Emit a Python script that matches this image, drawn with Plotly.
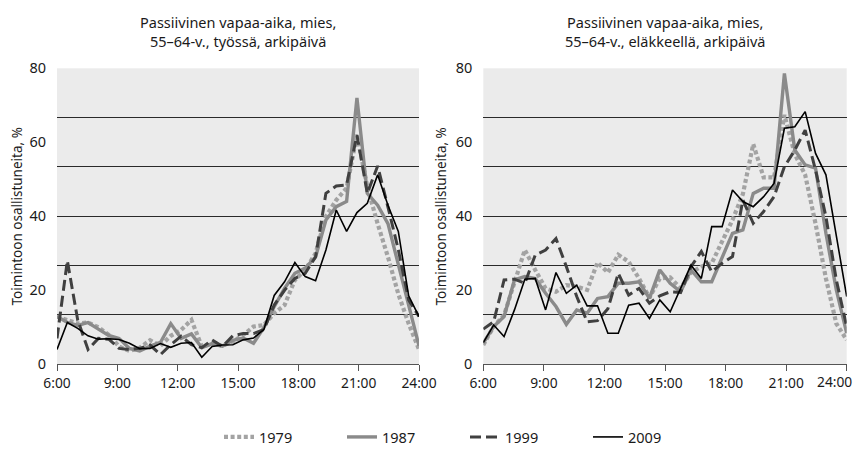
import numpy as np
import plotly.graph_objects as go

# --- data: 36 half-hour slots from 6:00 to 24:00 ---
tick_labels = ["6:00", "9:00", "12:00", "15:00", "18:00", "21:00", "24:00"]
years = ["1979", "1987", "1999", "2009"]

left_1979 = [12.9, 11.8, 11.0, 11.3, 10.0, 8.0, 4.8, 3.6, 4.5, 6.5, 5.0, 7.7, 9.3, 12.0, 4.8, 5.5, 5.0, 6.2,
             7.9, 10.2, 10.6, 13.8, 16.0, 22.8, 25.5, 30.0, 40.0, 44.4, 47.6, 62.0, 48.0, 38.0, 29.0, 19.0, 11.0, 4.0]
left_1987 = [12.9, 11.3, 10.5, 11.3, 9.5, 7.8, 7.0, 4.3, 3.6, 4.9, 5.9, 11.0, 7.0, 8.2, 4.5, 5.6, 4.9, 6.5,
             7.1, 5.7, 9.9, 15.6, 20.5, 24.6, 26.0, 29.0, 39.0, 42.6, 44.0, 72.0, 46.2, 43.0, 38.0, 27.0, 16.5, 5.0]
left_1999 = [7.0, 28.0, 12.0, 4.0, 7.0, 6.8, 4.3, 4.0, 4.3, 5.2, 2.6, 5.3, 7.6, 5.3, 4.5, 6.6, 4.8, 7.7,
             8.3, 8.3, 9.4, 16.0, 20.0, 23.2, 24.6, 29.0, 46.2, 48.2, 48.5, 62.0, 46.2, 53.6, 42.5, 31.0, 17.4, 12.9]
left_2009 = [4.0, 11.3, 9.7, 7.7, 6.8, 6.9, 6.7, 5.7, 4.2, 4.3, 5.6, 4.6, 5.7, 5.9, 1.9, 4.8, 5.2, 5.3,
             6.6, 7.1, 9.4, 18.6, 22.3, 27.5, 23.7, 22.6, 30.9, 41.7, 35.9, 41.0, 43.5, 51.2, 43.0, 35.9, 18.5, 12.9]

right_1979 = [5.2, 10.2, 13.3, 21.9, 30.9, 25.5, 20.5, 19.6, 21.4, 21.0, 20.1, 27.5, 24.8, 29.6, 27.7, 23.2, 18.0, 23.2,
              23.5, 20.5, 24.8, 26.4, 27.3, 33.2, 39.0, 46.0, 59.5, 50.5, 50.5, 67.4, 56.8, 51.2, 38.0, 23.2, 11.0, 6.6]
right_1987 = [5.7, 10.2, 12.9, 22.8, 23.7, 23.2, 19.2, 15.6, 10.8, 14.7, 13.8, 17.8, 18.3, 21.9, 21.9, 22.3, 17.8, 25.5,
              21.9, 19.6, 25.5, 22.3, 22.3, 29.1, 35.4, 36.3, 46.2, 47.6, 47.6, 78.6, 57.9, 53.9, 53.0, 35.4, 20.1, 8.4]
right_1999 = [9.5, 11.5, 22.8, 23.0, 21.9, 29.5, 30.9, 34.0, 26.4, 18.3, 11.5, 11.8, 15.0, 24.6, 18.7, 20.5, 16.5, 18.5,
              19.6, 19.4, 26.4, 30.5, 25.0, 27.3, 29.1, 44.4, 38.1, 41.3, 45.3, 53.4, 57.9, 63.3, 52.5, 39.9, 22.8, 10.2]
right_2009 = [5.9, 10.6, 7.5, 14.7, 23.0, 23.2, 14.7, 24.8, 19.2, 21.4, 15.8, 15.8, 8.4, 8.4, 16.0, 16.5, 12.4, 17.4,
              14.2, 20.5, 26.8, 23.2, 37.2, 37.2, 47.1, 44.0, 42.6, 45.3, 48.9, 63.8, 64.2, 68.3, 57.0, 51.2, 34.5, 18.3]

titles = ["Passiivinen vapaa-aika, mies,<br>55–64-v., työssä, arkipäivä",
          "Passiivinen vapaa-aika, mies,<br>55–64-v., eläkkeellä, arkipäivä"]
y_title = "Toimintoon osallistuneita, %"

# --- styling ---
OFF = 8                      # page body margin of the html page
W, H = 863 - OFF, 451 - OFF  # figure size
FONT = "Noto Sans"
TXT = "#1a1a1a"
TICK_SIZE = 13.8
styles = {
    "1979": dict(color="#a3a3a3", width=4.2, dash="4px,2.6px"),
    "1987": dict(color="#8a8a8a", width=3.4, dash="solid"),
    "1999": dict(color="#404040", width=3.0, dash="11px,5px"),
    "2009": dict(color="#000000", width=1.6, dash="solid"),
}

n = len(left_1979)
xs = np.arange(n)
tickpos = np.linspace(0, n - 1, len(tick_labels))

# positions in window pixels, converted to figure pixels
left_px = (57 - OFF, 419 - OFF)
right_px = (483.3 - OFF, 846.7 - OFF)
y_top_px, y_bot_px = 68.3 - OFF, 364.3 - OFF
ydom = [1 - y_bot_px / H, 1 - y_top_px / H]

fig = go.Figure()
data = {"L": [left_1979, left_1987, left_1999, left_2009],
        "R": [right_1979, right_1987, right_1999, right_2009]}
for panel, (xa, ya) in zip(["L", "R"], [("x", "y"), ("x2", "y2")]):
    for yr, vals in zip(years, data[panel]):
        fig.add_trace(go.Scatter(
            x=xs, y=vals, mode="lines", name=yr, xaxis=xa, yaxis=ya,
            line=styles[yr], showlegend=(panel == "L"), hoverinfo="skip"))

grid_axis = dict(range=[0, 80], tickmode="linear", tick0=0, dtick=80 / 6,
                 showgrid=True, gridcolor="#2a2a2a", gridwidth=1,
                 showticklabels=False, ticks="", zeroline=False, showline=False,
                 domain=ydom, fixedrange=True, automargin=False)
label_axis = dict(range=[0, 80], tickvals=[0, 20, 40, 60, 80], showgrid=False,
                  zeroline=False, showline=False, ticks="outside", ticklen=7,
                  tickcolor="rgba(0,0,0,0)", automargin=False,
                  tickfont=dict(family=FONT, size=14.5, color=TXT),
                  title=dict(text=y_title, font=dict(family=FONT, size=13.5, color=TXT),
                             standoff=6))
x_axis = dict(range=[0, n - 1], tickvals=tickpos,
              showgrid=False, zeroline=False, showline=True, linecolor="#555555",
              linewidth=1.2, ticks="outside", ticklen=6, tickcolor="#555555",
              automargin=False, ticklabeloverflow="allow",
              tickfont=dict(family=FONT, size=TICK_SIZE, color=TXT))

# the right panel's last label sits at the very page edge: drawn as an annotation
right_ticktext = tick_labels[:-1] + [""]

fig.update_layout(
    width=W, height=H,
    margin=dict(l=0, r=0, t=0, b=0, autoexpand=False),
    paper_bgcolor="white", plot_bgcolor="#ebebeb",
    xaxis=dict(x_axis, ticktext=tick_labels, domain=[left_px[0] / W, left_px[1] / W], anchor="y"),
    xaxis2=dict(x_axis, ticktext=right_ticktext, domain=[right_px[0] / W, right_px[1] / W], anchor="y2"),
    yaxis=dict(grid_axis, anchor="x"),
    yaxis2=dict(grid_axis, anchor="x2"),
    yaxis3=dict(label_axis, overlaying="y", anchor="x", side="left"),
    yaxis4=dict(label_axis, overlaying="y2", anchor="x2", side="left"),
    legend=dict(orientation="h", x=457 / W, xanchor="center", y=1 - (437 - OFF) / H, yanchor="middle",
                font=dict(family=FONT, size=14.5, color=TXT),
                entrywidth=78, entrywidthmode="pixels", bgcolor="rgba(0,0,0,0)"),
    showlegend=True,
)
fig.add_annotation(text=tick_labels[-1], x=tickpos[-1], xref="x2",
                   y=1 - (381 - OFF) / H, yref="paper", xanchor="right", yanchor="middle",
                   xshift=7, showarrow=False,
                   font=dict(family=FONT, size=TICK_SIZE, color=TXT))
for i, t in enumerate(titles):
    dom = [left_px, right_px][i]
    fig.add_annotation(text=t, x=(dom[0] + dom[1]) / 2 / W, y=1 - 2 / H, xref="paper", yref="paper",
                       xanchor="center", yanchor="top", showarrow=False,
                       font=dict(family=FONT, size=14.5, color=TXT), align="center")
# make the label axes exist with an empty trace each
fig.add_trace(go.Scatter(x=[], y=[], xaxis="x", yaxis="y3", showlegend=False))
fig.add_trace(go.Scatter(x=[], y=[], xaxis="x2", yaxis="y4", showlegend=False))

fig.write_html("out.html")
